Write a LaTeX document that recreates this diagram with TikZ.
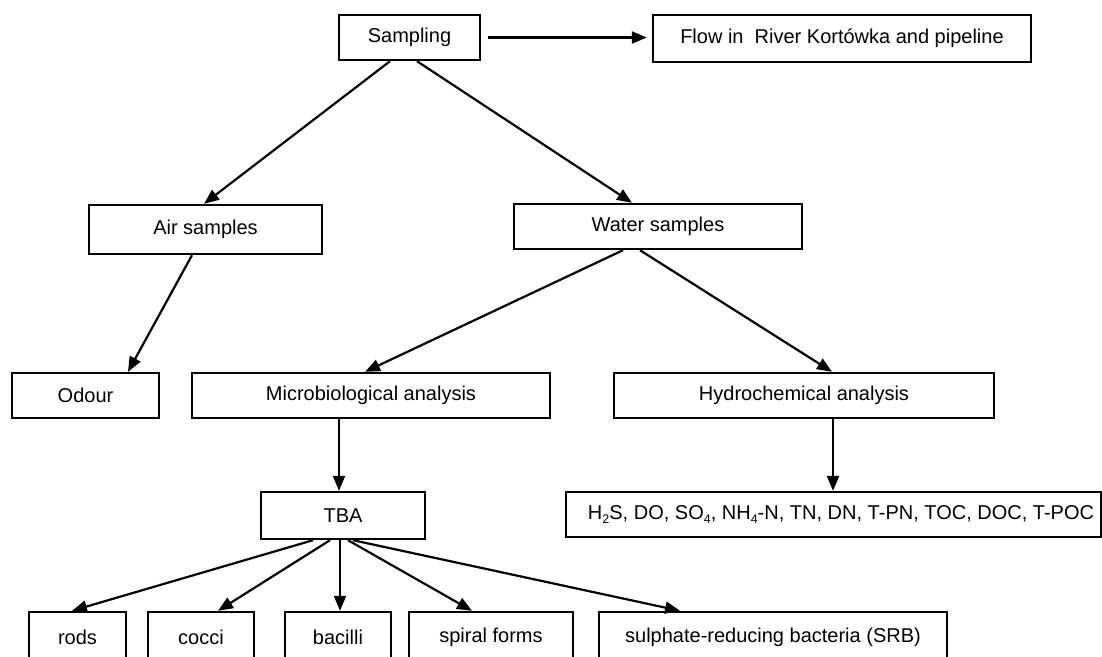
\documentclass[tikz,border=0pt]{standalone}
\usepackage{fontspec}
\setmainfont{Liberation Sans}
\usetikzlibrary{arrows.meta}
\newcommand\lowsub[1]{\raisebox{-0.35ex}{\fontsize{12.5}{12.5}\selectfont #1}}
\begin{document}
\begin{tikzpicture}[x=1pt,y=-1pt,
  box/.style={draw, line width=2.4pt, inner sep=0pt, font=\fontsize{20}{23}\selectfont},
  arr/.style={line width=2.2pt, -{Triangle[length=15pt,width=12pt]}}]
\useasboundingbox (0,0) rectangle (1102,656);
\clip (0,0) rectangle (1102,656);
\node[box, minimum width=141pt, minimum height=45pt] (samp) at (409.5,37.5) {Sampling};
\node[box, minimum width=378pt, minimum height=47pt] (flow) at (842,38.5) {Flow in\ \ River Kortówka and pipeline};
\node[box, minimum width=233pt, minimum height=49pt] (air) at (205.5,229.5) {Air samples};
\node[box, minimum width=288pt, minimum height=45pt] (water) at (658,226.5) {Water samples};
\node[box, minimum width=147pt, minimum height=45pt] (odour) at (85.5,395.5) {Odour};
\node[box, minimum width=358pt, minimum height=45pt] (micro) at (371,395.5) {Microbiological analysis};
\node[box, minimum width=380pt, minimum height=45pt] (hydro) at (804,395.5) {Hydrochemical analysis};
\node[box, minimum width=164pt, minimum height=47pt] (tba) at (343,515.5) {TBA};
\node[box, minimum width=535pt, minimum height=45pt] (chem) at (833.5,514.5) {\hspace{15pt}H\lowsub{2}S, DO, SO\lowsub{4}, NH\lowsub{4}-N, TN, DN, T-PN, TOC, DOC, T-POC};
\node[box, minimum width=97pt, minimum height=50pt] (rods) at (77.5,637) {rods};
\node[box, minimum width=106pt, minimum height=50pt] (cocci) at (201,637) {cocci};
\node[box, minimum width=106pt, minimum height=50pt] (bacilli) at (338,637) {bacilli};
\node[box, minimum width=164pt, minimum height=50pt] (spiral) at (491,637) {spiral forms};
\node[box, minimum width=348pt, minimum height=50pt] (srb) at (773,637) {sulphate-reducing bacteria (SRB)};
\draw[arr, shorten <=7pt, shorten >=5pt] (samp.east) -- (samp.east -| flow.west);
\draw[arr] ([xshift=-19.5pt]samp.south) -- ([xshift=-1.5pt]air.north);
\draw[arr] ([xshift=7.5pt]samp.south) -- ([xshift=-26pt]water.north);
\draw[arr] ([xshift=-13.5pt]air.south) -- ([xshift=42.5pt]odour.north);
\draw[arr] ([xshift=-35pt]water.south) -- ([xshift=-6pt]micro.north);
\draw[arr] ([xshift=-18pt]water.south) -- ([xshift=28pt]hydro.north);
\draw[arr] ([xshift=-32pt]micro.south) -- ([xshift=-4pt]tba.north);
\draw[arr] ([xshift=29pt]hydro.south) -- ([xshift=-0.5pt]chem.north);
\draw[arr] ([xshift=-30pt]tba.south) -- ([xshift=-5.5pt]rods.north);
\draw[arr] ([xshift=-13pt]tba.south) -- ([xshift=17pt]cocci.north);
\draw[arr] ([xshift=-3pt]tba.south) -- ([xshift=2pt]bacilli.north);
\draw[arr] ([xshift=5pt]tba.south) -- ([xshift=-19pt]spiral.north);
\draw[arr] ([xshift=10pt]tba.south) -- ([xshift=-93pt]srb.north);
\end{tikzpicture}
\end{document}
